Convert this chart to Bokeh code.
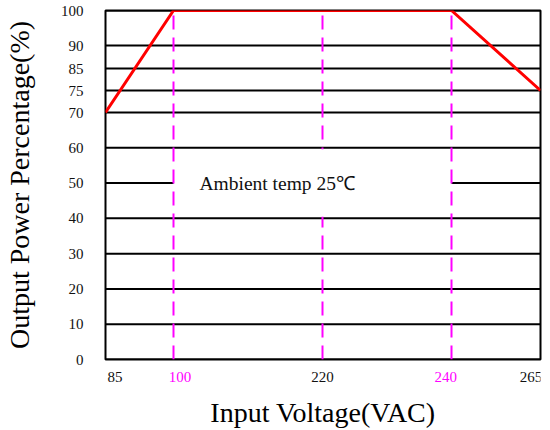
import numpy as np
from bokeh.plotting import figure
from bokeh.layouts import column
from bokeh.models import Range1d, FixedTicker, ColumnDataSource, Label
from bokeh.core.properties import value
from bokeh.embed import file_html
from bokeh.resources import INLINE

# ---------------- data ----------------
voltage_ticks = [85, 100, 220, 240, 265]
voltage_tick_labels = ["85", "100", "220", "240", "265"]
voltage_tick_colors = ["#111111", "#FF00FF", "#111111", "#FF00FF", "#111111"]
power_ticks = [0, 10, 20, 30, 40, 50, 60, 70, 75, 85, 90, 100]
power_tick_labels = ["0", "10", "20", "30", "40", "50", "60", "70", "75", "85", "90", "100"]
curve_voltage = [85, 100, 240, 265]
curve_power = [70, 100, 100, 75]
marker_voltages_back = [220]
marker_voltages_front = [100, 240]
note_text = "Ambient temp 25\u2103"
note_voltage = 100
note_power = 50

# ---------------- non-uniform axis layout (scale of the original chart) ----------------
X_STOPS = [85, 100, 220, 240, 265]
X_STOP_POS = [0, 68, 217, 346, 435]
Y_STOPS = [0, 70, 75, 85, 90, 100]
Y_STOP_POS = [0, 247, 269, 291, 314, 349]


def fx(v):
    return np.interp(np.asarray(v, dtype=float), X_STOPS, X_STOP_POS)


def fy(v):
    return np.interp(np.asarray(v, dtype=float), Y_STOPS, Y_STOP_POS)


FONT = "Liberation Serif"
MAGENTA = "#FF00FF"
PAD = 10

# ---------------- main chart ----------------
p = figure(width=550, height=369, output_backend="svg", toolbar_location=None,
           x_range=Range1d(0, X_STOP_POS[-1]), y_range=Range1d(0, Y_STOP_POS[-1]),
           min_border_left=105, min_border_right=10, min_border_top=10, min_border_bottom=10)
p.background_fill_color = "white"
p.border_fill_color = "white"
p.outline_line_color = "black"
p.outline_line_width = 2
p.xgrid.visible = False
p.ygrid.visible = False
p.xaxis.visible = False

# horizontal grid lines
xmin, xmax = fx(voltage_ticks[0]), fx(voltage_ticks[-1])
hy = fy(power_ticks)
hsrc = ColumnDataSource(dict(x0=[float(xmin)] * len(hy), x1=[float(xmax)] * len(hy), y=list(hy)))
p.segment(x0="x0", x1="x1", y0="y", y1="y", source=hsrc, line_color="black", line_width=2)

ybot, ytop = float(fy(power_ticks[0])), float(fy(power_ticks[-1]))

# dashed marker behind note box
bx = fx(marker_voltages_back)
p.segment(x0=list(bx), x1=list(bx), y0=[ybot] * len(bx), y1=[ytop] * len(bx),
          line_color=MAGENTA, line_width=2, line_dash="14 8")

# white note box between 100V/240V and 40%/60%
p.quad(left=[float(fx(100))], right=[float(fx(240))],
       bottom=[float(fy(40)) + 1.5], top=[float(fy(60)) - 1.5],
       fill_color="white", line_color=None)

# dashed markers in front
fxv = fx(marker_voltages_front)
p.segment(x0=list(fxv), x1=list(fxv), y0=[ybot] * len(fxv), y1=[ytop] * len(fxv),
          line_color=MAGENTA, line_width=2, line_dash="14 8")

# derating curve
p.line(x=list(fx(curve_voltage)), y=list(fy(curve_power)), line_color="#FF0000", line_width=3)

# note text
p.add_layout(Label(x=float(fx(note_voltage)) + 26, y=float(fy(note_power)), text=note_text,
                   text_font=FONT, text_font_size="19.5px", text_color="#111111",
                   text_align="left", text_baseline="middle"))

# y axis
yt = [float(v) for v in fy(power_ticks)]
p.yaxis.ticker = FixedTicker(ticks=yt)
p.yaxis.major_label_overrides = {t: lab for t, lab in zip(yt, power_tick_labels)}
p.yaxis.major_tick_out = 0
p.yaxis.major_tick_in = 0
p.yaxis.minor_tick_out = 0
p.yaxis.minor_tick_in = 0
p.yaxis.axis_line_color = None
p.yaxis.major_label_standoff = 22
p.yaxis.major_label_text_font = FONT
p.yaxis.major_label_text_font_size = "15px"
p.yaxis.major_label_text_color = "#111111"
p.yaxis.axis_label = "Output Power Percentage(%)"
p.yaxis.axis_label_text_font = FONT
p.yaxis.axis_label_text_font_size = "28px"
p.yaxis.axis_label_text_font_style = "normal"
p.yaxis.axis_label_text_color = "black"
p.yaxis.axis_label_standoff = 23

# ---------------- x tick label strip + x axis title ----------------
q = figure(width=550, height=61, output_backend="svg", toolbar_location=None,
           x_range=Range1d(-PAD, X_STOP_POS[-1] + PAD), y_range=Range1d(-25, 0),
           min_border_left=105 - PAD, min_border_right=10 - PAD,
           min_border_top=0, min_border_bottom=36)
q.background_fill_color = "white"
q.border_fill_color = "white"
q.outline_line_color = None
q.xgrid.visible = False
q.ygrid.visible = False
q.yaxis.visible = False

tsrc = ColumnDataSource(dict(x=list(fx(voltage_ticks)), y=[-3.0] * len(voltage_ticks),
                             text=voltage_tick_labels, color=voltage_tick_colors))
q.text(x="x", y="y", text="text", source=tsrc, text_color="color",
       text_font=value(FONT), text_font_size=value("15px"),
       text_align="center", text_baseline="top")

q.xaxis.ticker = FixedTicker(ticks=[])
q.xaxis.major_tick_out = 0
q.xaxis.major_tick_in = 0
q.xaxis.minor_tick_out = 0
q.xaxis.minor_tick_in = 0
q.xaxis.axis_line_color = None
q.xaxis.major_label_standoff = 0
q.xaxis.major_label_text_font_size = "0px"
q.xaxis.axis_label = "Input Voltage(VAC)"
q.xaxis.axis_label_text_font = FONT
q.xaxis.axis_label_text_font_size = "28px"
q.xaxis.axis_label_text_font_style = "normal"
q.xaxis.axis_label_text_color = "black"
q.xaxis.axis_label_standoff = 5

layout = column(p, q, spacing=0)
open("out.html", "w").write(file_html(layout, INLINE))
